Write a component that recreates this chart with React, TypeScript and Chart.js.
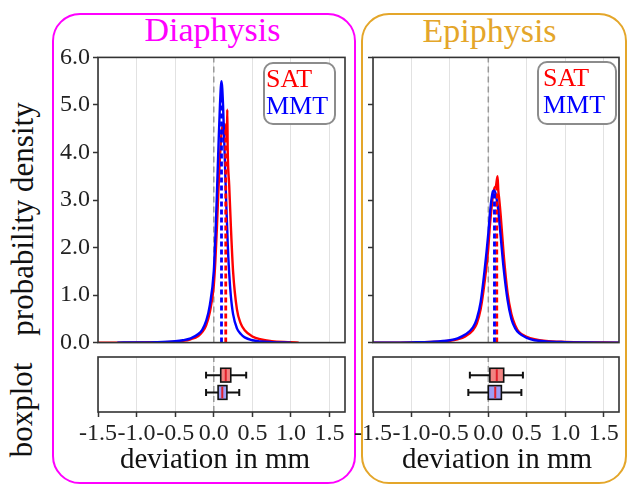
import React, { useEffect, useRef } from 'react';
import { Chart, registerables } from 'chart.js';

Chart.register(...registerables);

// ---------- data ----------
const panelTitles = ['Diaphysis', 'Epiphysis'];
const seriesNames = ['SAT', 'MMT'];
const xTicks = [-1.5, -1.0, -0.5, 0.0, 0.5, 1.0, 1.5];
const yTicks = [0, 1, 2, 3, 4, 5, 6];
const axisTitleY = 'probability density';
const axisTitleBox = 'boxplot';
const axisTitleX = 'deviation in mm';

// Diaphysis density curves
const diaX = [-1.5, -1.25, -1.0, -0.75, -0.5, -0.4, -0.3, -0.2, -0.15, -0.1, -0.05, 0.0, 0.02, 0.04, 0.06, 0.08, 0.1, 0.12, 0.14, 0.15, 0.16, 0.17, 0.175, 0.18, 0.2, 0.22, 0.25, 0.3, 0.35, 0.4, 0.5, 0.6, 0.75, 1.0, 1.1];
const diaSAT = [0, 0, 0.002, 0.008, 0.02, 0.035, 0.07, 0.14, 0.22, 0.36, 0.65, 1.2, 1.7, 2.4, 3.2, 3.9, 4.4, 4.6, 4.6, 4.5, 4.4, 4.3, 4.9, 4.1, 3.3, 2.5, 1.5, 0.7, 0.4, 0.26, 0.13, 0.07, 0.03, 0.01, 0.0];
const diaMMT = [null, 0.0, 0.003, 0.01, 0.03, 0.05, 0.09, 0.18, 0.27, 0.45, 0.8, 1.5, 2.2, 3.1, 4.1, 5.0, 5.5, 5.0, 4.0, 3.5, 3.0, 2.55, 2.35, 2.1, 1.45, 1.0, 0.6, 0.3, 0.18, 0.11, 0.05, 0.025, 0.01, 0.0, null];
const diaMeans = [0.155, 0.10];
const diaMeanTops = [4.5, 5.3];

// Epiphysis density curves
const epiX = [-1.5, -1.25, -1.0, -0.75, -0.5, -0.4, -0.3, -0.2, -0.15, -0.1, -0.05, 0.0, 0.02, 0.04, 0.06, 0.08, 0.1, 0.12, 0.13, 0.14, 0.16, 0.2, 0.25, 0.3, 0.35, 0.4, 0.5, 0.6, 0.75, 1.0, 1.25, 1.5, 1.7];
const epiSAT = [0, 0, 0.004, 0.012, 0.04, 0.07, 0.13, 0.26, 0.4, 0.7, 1.25, 2.0, 2.45, 2.8, 3.1, 3.25, 3.3, 3.5, 3.2, 3.05, 2.7, 1.85, 1.05, 0.6, 0.36, 0.22, 0.12, 0.07, 0.035, 0.015, 0.005, 0.002, 0.0];
const epiMMT = [0, 0, 0.005, 0.015, 0.05, 0.09, 0.17, 0.32, 0.5, 0.85, 1.5, 2.3, 2.7, 3.0, 3.18, 3.2, 3.1, 2.9, 2.78, 2.6, 2.25, 1.55, 0.9, 0.5, 0.3, 0.2, 0.1, 0.05, 0.025, 0.01, 0.003, 0.0, 0.0];
const epiMeans = [0.11, 0.08];
const epiMeanTops = [3.3, 3.18];

// boxplot stats: [whisker low, Q1, median, Q3, whisker high]
const diaBoxSAT = [-0.10, 0.09, 0.155, 0.22, 0.42];
const diaBoxMMT = [-0.10, 0.056, 0.11, 0.17, 0.33];
const epiBoxSAT = [-0.24, 0.02, 0.11, 0.20, 0.45];
const epiBoxMMT = [-0.26, 0.0, 0.09, 0.17, 0.43];

// ---------- styles ----------
const FONT = "'Liberation Serif', 'Times New Roman', serif";
const RED = '#ff0000';
const BLUE = '#0000ff';
const MAGENTA = '#ff00ff';
const GOLD = '#e4a62a';
const AXIS = '#333333';
const GRID = '#e2e2e2';
const TICK_SIZE = 24;

const fmt = (v: any) => Number(v).toFixed(1);

const framePlugin = {
  id: 'frame',
  afterDraw(chart: any) {
    const { ctx, chartArea: a } = chart;
    ctx.save();
    ctx.strokeStyle = AXIS;
    ctx.lineWidth = 1.6;
    ctx.strokeRect(a.left, a.top, a.right - a.left, a.bottom - a.top);
    ctx.restore();
  },
};

function densityConfig(xs: number[], sat: any[], mmt: any[], means: number[], tops: number[], showLabels: boolean, padRight: number) {
  const pts = (ys: any[]) => xs.map((x, i) => ({ x, y: ys[i] }));
  return {
    type: 'scatter',
    data: {
      datasets: [
        { label: seriesNames[1] + ' mean', data: [{ x: means[1], y: 0 }, { x: means[1], y: tops[1] }], showLine: true, borderColor: BLUE, borderWidth: 2.8, borderDash: [5, 3], pointRadius: 0, order: 1 },
        { label: seriesNames[0] + ' mean', data: [{ x: means[0], y: 0 }, { x: means[0], y: tops[0] }], showLine: true, borderColor: RED, borderWidth: 2.8, borderDash: [5, 3], pointRadius: 0, order: 2 },
        { label: seriesNames[1], data: pts(mmt), showLine: true, borderColor: BLUE, borderWidth: 2.4, pointRadius: 0, cubicInterpolationMode: 'monotone', spanGaps: false, order: 3 },
        { label: seriesNames[0], data: pts(sat), showLine: true, borderColor: RED, borderWidth: 2.4, pointRadius: 0, cubicInterpolationMode: 'monotone', order: 4 },
        { label: 'zero', data: [{ x: 0, y: 0 }, { x: 0, y: 6 }], showLine: true, borderColor: '#999999', borderWidth: 1.5, borderDash: [6, 4], pointRadius: 0, order: 5 },
      ],
    },
    options: {
      animation: false,
      responsive: false,
      events: [],
      layout: { autoPadding: false, padding: { left: 0, right: padRight, top: 15, bottom: 14 } },
      plugins: { legend: { display: false }, tooltip: { enabled: false } },
      scales: {
        x: {
          type: 'linear', min: -1.5, max: 1.7,
          afterBuildTicks: (s: any) => { s.ticks = xTicks.map((v) => ({ value: v })); },
          ticks: { display: false },
          grid: { color: GRID, lineWidth: 1, drawTicks: false },
          border: { display: false },
          afterFit: (s: any) => { s.height = 0; },
        },
        y: {
          type: 'linear', min: 0, max: 6,
          afterBuildTicks: (s: any) => { s.ticks = yTicks.map((v) => ({ value: v })); },
          ticks: { callback: (v: any) => (showLabels ? fmt(v) : ''), font: { family: FONT, size: TICK_SIZE }, color: '#222', padding: 3 },
          grid: { drawOnChartArea: false, tickLength: 5, tickColor: AXIS, tickWidth: 1.5 },
          border: { display: false },
          afterFit: (s: any) => { s.width = 40; },
        },
      },
    },
    plugins: [framePlugin],
  };
}

function boxConfig(items: { stats: number[]; pos: number; fill: string }[], padRight: number) {
  const boxPlugin = {
    id: 'boxes',
    afterDatasetsDraw(chart: any) {
      const { ctx } = chart;
      const xs = chart.scales.x;
      const ys = chart.scales.y;
      const X = (v: number) => xs.getPixelForValue(v);
      ctx.save();
      for (const it of items) {
        const [lo, q1, med, q3, hi] = it.stats;
        const yc = ys.getPixelForValue(it.pos);
        const hh = Math.abs(ys.getPixelForValue(it.pos + 0.125) - yc);
        const cap = hh * 0.5;
        ctx.strokeStyle = '#111';
        ctx.lineWidth = 2;
        ctx.beginPath();
        ctx.moveTo(X(lo), yc); ctx.lineTo(X(q1), yc);
        ctx.moveTo(X(q3), yc); ctx.lineTo(X(hi), yc);
        ctx.moveTo(X(lo), yc - cap); ctx.lineTo(X(lo), yc + cap);
        ctx.moveTo(X(hi), yc - cap); ctx.lineTo(X(hi), yc + cap);
        ctx.stroke();
        ctx.fillStyle = it.fill;
        ctx.fillRect(X(q1), yc - hh, X(q3) - X(q1), 2 * hh);
        ctx.lineWidth = 1.6;
        ctx.strokeRect(X(q1), yc - hh, X(q3) - X(q1), 2 * hh);
        ctx.strokeStyle = '#e0202a';
        ctx.lineWidth = 2;
        ctx.beginPath();
        ctx.moveTo(X(med), yc - hh + 1); ctx.lineTo(X(med), yc + hh - 1);
        ctx.stroke();
      }
      ctx.restore();
    },
  };
  return {
    type: 'scatter',
    data: {
      datasets: [
        { label: 'zero', data: [{ x: 0, y: 0 }, { x: 0, y: 1 }], showLine: true, borderColor: '#999999', borderWidth: 1.5, borderDash: [6, 4], pointRadius: 0 },
      ],
    },
    options: {
      animation: false,
      responsive: false,
      events: [],
      layout: { autoPadding: false, padding: { left: 0, right: padRight, top: 3, bottom: 0 } },
      plugins: { legend: { display: false }, tooltip: { enabled: false } },
      scales: {
        x: {
          type: 'linear', min: -1.5, max: 1.7,
          afterBuildTicks: (s: any) => { s.ticks = xTicks.map((v) => ({ value: v })); },
          ticks: { callback: (v: any) => fmt(v), font: { family: FONT, size: TICK_SIZE }, color: '#222', padding: 2, maxRotation: 0, minRotation: 0, autoSkip: false },
          grid: { color: GRID, lineWidth: 1, tickLength: 5, tickColor: AXIS, tickWidth: 1.5 },
          border: { display: false },
          afterFit: (s: any) => { s.height = 30; },
        },
        y: {
          type: 'linear', min: 0, max: 1,
          ticks: { display: false },
          grid: { display: false },
          border: { display: false },
          afterFit: (s: any) => { s.width = 40; },
        },
      },
    },
    plugins: [framePlugin, boxPlugin],
  };
}

function ChartCanvas({ make, left, top, width, height }: any) {
  const ref = useRef<HTMLCanvasElement>(null);
  useEffect(() => {
    const chart = new Chart(ref.current as HTMLCanvasElement, make());
    return () => chart.destroy();
  }, []);
  return (
    <canvas
      ref={ref}
      width={width}
      height={height}
      style={{ position: 'absolute', left, top, width, height }}
    />
  );
}

function Legend({ left, top, width, height, padLeft }: any) {
  const colors = [RED, BLUE];
  return (
    <div
      style={{
        position: 'absolute', left, top, width, height, boxSizing: 'border-box',
        border: '2px solid #8c8c8c', borderRadius: 10, background: '#fff',
        paddingLeft: padLeft, paddingTop: 1, fontSize: 26, lineHeight: '27px', fontFamily: FONT,
      }}
    >
      {seriesNames.map((n, i) => (
        <div key={n} style={{ color: colors[i], whiteSpace: 'nowrap' }}>{n}</div>
      ))}
    </div>
  );
}

const SAT_FILL = '#f28482';
const MMT_FILL = '#9c9cf4';

export default function App() {
  const txt = (extra: any) => ({ position: 'absolute', fontFamily: FONT, whiteSpace: 'nowrap', ...extra });
  return (
    <div style={{ position: 'fixed', left: 0, top: 0, width: 628, height: 486, background: '#fff', overflow: 'hidden', fontFamily: FONT }}>
      {/* panel frames */}
      <div style={{ position: 'absolute', left: 52, top: 13, width: 304, height: 471, boxSizing: 'border-box', border: `2.5px solid ${MAGENTA}`, borderRadius: 28 }} />
      <div style={{ position: 'absolute', left: 361, top: 13, width: 266, height: 471, boxSizing: 'border-box', border: `2.5px solid ${GOLD}`, borderRadius: 28 }} />

      {/* titles */}
      <div style={txt({ left: 212.5, top: 12.5, transform: 'translateX(-50%)', fontSize: 34, lineHeight: '34px', color: MAGENTA })}>{panelTitles[0]}</div>
      <div style={txt({ left: 489.5, top: 13.5, transform: 'translateX(-50%)', fontSize: 34, lineHeight: '34px', color: GOLD })}>{panelTitles[1]}</div>

      {/* y axis titles */}
      <div style={txt({ left: 22, top: 219, transform: 'translate(-50%, -50%) rotate(-90deg)', fontSize: 31, lineHeight: '31px', color: '#111' })}>{axisTitleY}</div>
      <div style={txt({ left: 21, top: 410, transform: 'translate(-50%, -50%) rotate(-90deg)', fontSize: 31, lineHeight: '31px', color: '#111' })}>{axisTitleBox}</div>

      {/* charts */}
      <ChartCanvas left={58} top={40} width={300} height={320} make={() => densityConfig(diaX, diaSAT, diaMMT, diaMeans, diaMeanTops, true, 13)} />
      <ChartCanvas left={58} top={354} width={300} height={88} make={() => boxConfig([
        { stats: diaBoxSAT, pos: 0.67, fill: SAT_FILL },
        { stats: diaBoxMMT, pos: 0.355, fill: MMT_FILL },
      ], 13)} />
      <ChartCanvas left={333} top={40} width={295} height={320} make={() => densityConfig(epiX, epiSAT, epiMMT, epiMeans, epiMeanTops, false, 9)} />
      <ChartCanvas left={333} top={354} width={295} height={88} make={() => boxConfig([
        { stats: epiBoxSAT, pos: 0.67, fill: SAT_FILL },
        { stats: epiBoxMMT, pos: 0.355, fill: MMT_FILL },
      ], 9)} />

      {/* x axis titles */}
      <div style={txt({ left: 215, top: 444, transform: 'translateX(-50%)', fontSize: 29, lineHeight: '29px', color: '#111' })}>{axisTitleX}</div>
      <div style={txt({ left: 497, top: 444, transform: 'translateX(-50%)', fontSize: 29, lineHeight: '29px', color: '#111' })}>{axisTitleX}</div>

      {/* legends */}
      <Legend left={263} top={62} width={73} height={63} padLeft={1} />
      <Legend left={537} top={61} width={80} height={64} padLeft={4} />
    </div>
  );
}
